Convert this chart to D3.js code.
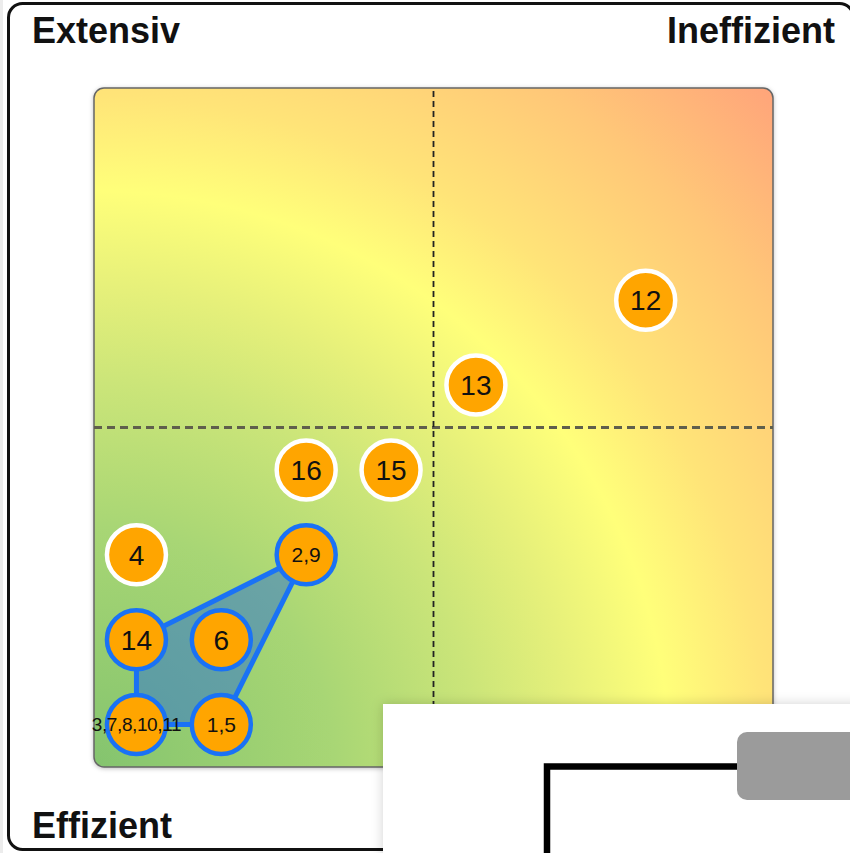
<!DOCTYPE html>
<html>
<head>
<meta charset="utf-8">
<script src="https://cdn.jsdelivr.net/npm/d3@7"></script>
<style>
	html, body { margin: 0; padding: 0; background: #fff; overflow: hidden; }
	svg { display: block; font-family: 'Liberation Sans', Arial, sans-serif; }
</style>
</head>
<body>
<div id="chart"></div>
<script>
// Portfolio matrix (Extensiv / Ineffizient / Effizient)

// Data
var labels = ['3,7,8,10,11', '1,5', '14', '6', '4', '2,9', '16', '15', '13', '12'];
var xValues = [0.5, 1.5, 0.5, 1.5, 0.5, 2.5, 2.5, 3.5, 4.5, 6.5];
var yValues = [0.5, 0.5, 1.5, 1.5, 2.5, 2.5, 3.5, 3.5, 4.5, 5.5];
var inGroup = [true, true, true, true, false, true, false, false, false, false];
var cornerLabels = ['Extensiv', 'Ineffizient', 'Effizient'];
var domainMax = 8;

var width = 850,
	height = 853,
	plot = {left: 94, top: 88, right: 773, bottom: 767};

var svg = d3.select('#chart').append('svg')
	.attr('width', width)
	.attr('height', height);

var defs = svg.append('defs');

// background radial gradient, centred on the bottom-left corner
var grad = defs.append('radialGradient')
	.attr('id', 'bg')
	.attr('gradientUnits', 'userSpaceOnUse')
	.attr('cx', plot.left).attr('cy', plot.bottom)
	.attr('fx', plot.left).attr('fy', plot.bottom)
	.attr('r', 960);

[[0, '#84c46e'], [0.25, '#a8d674'], [0.4, '#cbe579'], [0.5, '#e6f07a'],
	[0.6, '#ffff7a'], [0.7, '#ffe478'], [0.85, '#ffc778'], [1, '#ffa47a']]
	.forEach(function(s) {
		grad.append('stop').attr('offset', s[0]).attr('stop-color', s[1]);
	});

var shadow = defs.append('filter').attr('id', 'shadow')
	.attr('x', -0.1).attr('y', -0.1).attr('width', 1.2).attr('height', 1.2);
shadow.append('feDropShadow')
	.attr('dx', 0).attr('dy', 1)
	.attr('stdDeviation', 2)
	.attr('flood-color', '#000')
	.attr('flood-opacity', 0.25);

var popShadow = defs.append('filter').attr('id', 'popShadow')
	.attr('x', -0.2).attr('y', -0.2).attr('width', 1.4).attr('height', 1.4);
popShadow.append('feDropShadow')
	.attr('dx', 0).attr('dy', 0)
	.attr('stdDeviation', 6)
	.attr('flood-color', '#000')
	.attr('flood-opacity', 0.18);

// left page strip
svg.append('rect')
	.attr('x', 0).attr('y', 0)
	.attr('width', 3).attr('height', height)
	.attr('fill', '#ececec');

// outer frame
svg.append('rect')
	.attr('x', 8.5).attr('y', 3.5)
	.attr('width', 845).attr('height', 846)
	.attr('rx', 14)
	.attr('fill', '#fff')
	.attr('stroke', '#111')
	.attr('stroke-width', 3);

// corner labels
svg.append('text')
	.attr('x', 32).attr('y', 43)
	.style('font-size', '36px').style('font-weight', 'bold')
	.attr('fill', '#111')
	.text(cornerLabels[0]);

svg.append('text')
	.attr('x', 835).attr('y', 43)
	.attr('text-anchor', 'end')
	.style('font-size', '36px').style('font-weight', 'bold')
	.attr('fill', '#111')
	.text(cornerLabels[1]);

svg.append('text')
	.attr('x', 32).attr('y', 838)
	.style('font-size', '36px').style('font-weight', 'bold')
	.attr('fill', '#111')
	.text(cornerLabels[2]);

// scales
var x = d3.scaleLinear().domain([0, domainMax]).range([plot.left, plot.right]);
var y = d3.scaleLinear().domain([0, domainMax]).range([plot.bottom, plot.top]);

// plot area
svg.append('rect')
	.attr('x', x(0)).attr('y', y(domainMax))
	.attr('width', x(domainMax) - x(0))
	.attr('height', y(0) - y(domainMax))
	.attr('rx', 10)
	.attr('fill', 'url(#bg)')
	.attr('stroke', '#666')
	.attr('stroke-width', 1.5)
	.attr('filter', 'url(#shadow)');

// quadrant dividers
svg.append('line')
	.attr('x1', x(0)).attr('x2', x(domainMax))
	.attr('y1', y(domainMax / 2)).attr('y2', y(domainMax / 2))
	.attr('stroke', '#5f5f4c')
	.attr('stroke-width', 2.8)
	.attr('stroke-dasharray', '8,5');

svg.append('line')
	.attr('x1', x(domainMax / 2)).attr('x2', x(domainMax / 2))
	.attr('y1', y(0)).attr('y2', y(domainMax))
	.attr('stroke', '#222')
	.attr('stroke-width', 1.8)
	.attr('stroke-dasharray', '6,4');

var points = labels.map(function(l, i) {
	return {label: l, x: xValues[i], y: yValues[i], group: inGroup[i]};
});

// hull around the highlighted group
var hull = d3.polygonHull(points.filter(function(d) { return d.group; })
	.map(function(d) { return [x(d.x), y(d.y)]; }));

svg.append('path')
	.attr('d', 'M' + hull.join('L') + 'Z')
	.attr('fill', '#2a6fd6')
	.attr('fill-opacity', 0.5)
	.attr('stroke', '#1a72f5')
	.attr('stroke-width', 5)
	.attr('stroke-linejoin', 'round');

// bubbles
var node = svg.append('g').selectAll('g')
	.data(points)
	.enter().append('g')
	.attr('transform', function(d) { return 'translate(' + x(d.x) + ',' + y(d.y) + ')'; });

node.append('circle')
	.attr('r', 29.5)
	.attr('fill', '#ffa500')
	.attr('stroke', function(d) { return d.group ? '#1a72f5' : '#fff'; })
	.attr('stroke-width', 4.5);

node.append('text')
	.attr('dy', '0.36em')
	.attr('text-anchor', 'middle')
	.attr('fill', '#111')
	.style('font-size', function(d) {
		return d.label.length <= 2 ? '28px' : (d.label.length <= 3 ? '21px' : '19px');
	})
	.style('letter-spacing', function(d) { return d.label.length > 3 ? '-0.4px' : null; })
	.text(function(d) { return d.label; });

// overlapping panel in the bottom-right corner
var pop = svg.append('g');

pop.append('rect')
	.attr('x', 383).attr('y', 704)
	.attr('width', 480).attr('height', 160)
	.attr('fill', '#fff')
	.attr('filter', 'url(#popShadow)');

pop.append('path')
	.attr('d', 'M547,860V766.5H740')
	.attr('fill', 'none')
	.attr('stroke', '#000')
	.attr('stroke-width', 6.5);

pop.append('rect')
	.attr('x', 737).attr('y', 732)
	.attr('width', 140).attr('height', 68)
	.attr('rx', 10)
	.attr('fill', '#9b9b9b');
</script>
</body>
</html>
